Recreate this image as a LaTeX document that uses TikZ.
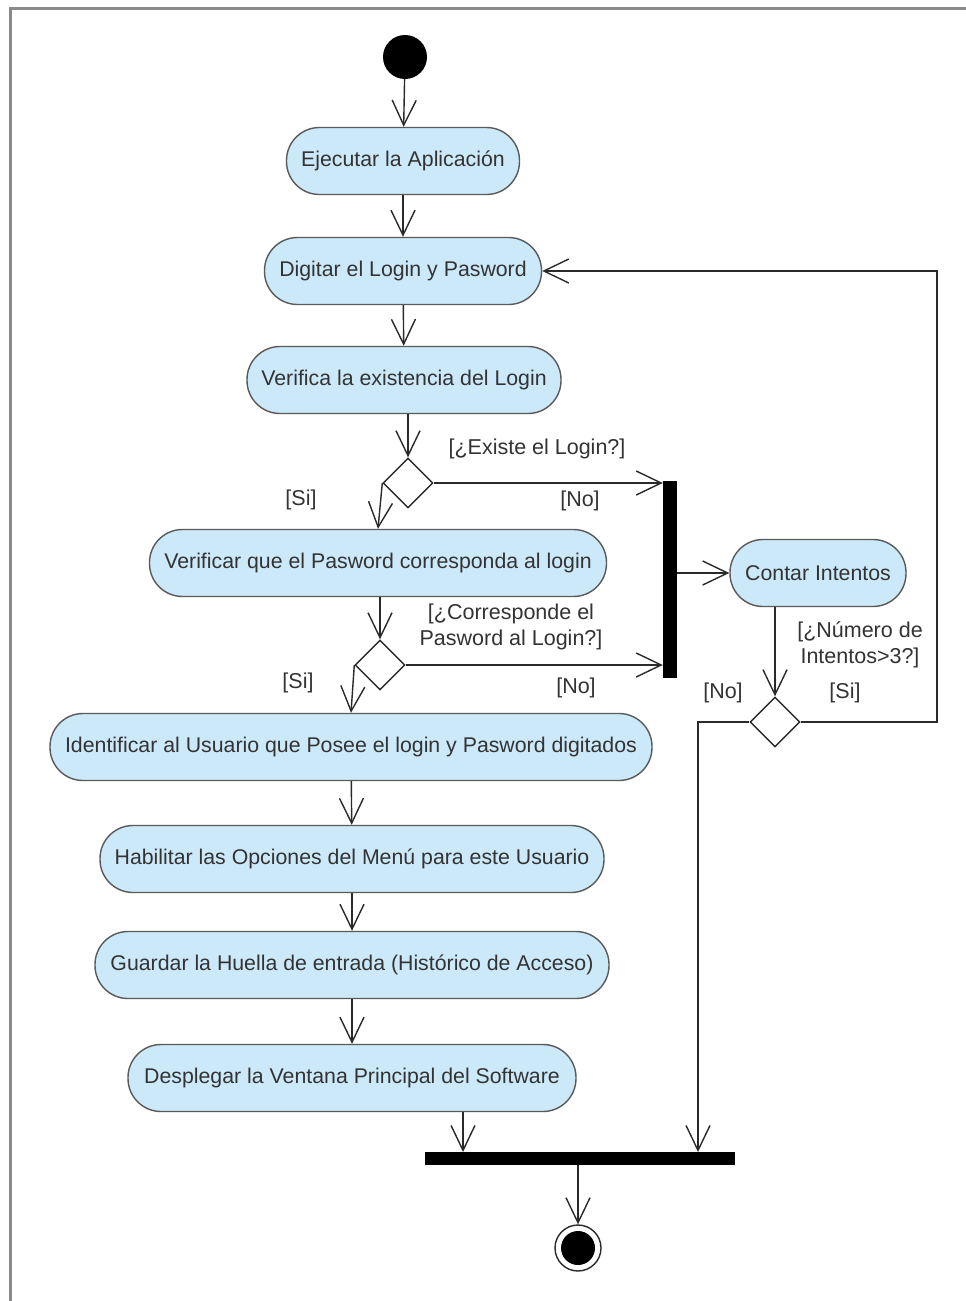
\documentclass[tikz,border=0pt]{standalone}
\usepackage{fontspec}
\setmainfont{Liberation Sans}
\usetikzlibrary{shapes.geometric,arrows.meta,calc}
\definecolor{actfill}{HTML}{CCE9FA}
\definecolor{actline}{HTML}{5A5A5A}
\definecolor{txt}{HTML}{333333}
\definecolor{wire}{HTML}{2A2A2A}
\definecolor{framec}{HTML}{8A8A8A}
\tikzset{
  activity/.style={rectangle, rounded corners=33pt, draw=actline, fill=actfill,
    line width=1.4pt, minimum height=67pt, inner sep=0pt, text=txt,
    font=\fontsize{21.3}{26}\selectfont},
  decision/.style={diamond, draw=wire, fill=white, line width=1.4pt,
    minimum width=50pt, minimum height=50pt, inner sep=0pt},
  syncbar/.style={rectangle, fill=black, inner sep=0pt},
  guard/.style={text=txt, font=\fontsize{21.5}{26}\selectfont, align=center, inner sep=0pt},
  flow/.style={draw=wire, line width=1.4pt,
    -{Straight Barb[length=25pt, width=24pt, line width=1.4pt]}},
}
\begin{document}
\begin{tikzpicture}[x=1pt,y=-1pt]
\useasboundingbox (0,0) rectangle (966,1301);
\fill[white] (0,0) rectangle (966,1301);
% diagram frame
\draw[framec, line width=3pt] (10,1301) -- (10,8) -- (966,8);

% nodes
\node[circle, fill=black, minimum size=44pt, inner sep=0pt] (start) at (405,57) {};
\node[activity, minimum width=233pt] (ejec) at (403,161) {Ejecutar la Aplicación};
\node[activity, minimum width=277pt] (digit) at (403,271) {Digitar el Login y Pasword};
\node[activity, minimum width=314pt] (verif) at (404,380) {Verifica la existencia del Login};
\node[decision] (d1) at (408,483) {};
\node[activity, minimum width=457pt] (vpass) at (378,563) {Verificar que el Pasword corresponda al login};
\node[decision] (d2) at (380,665) {};
\node[activity, minimum width=602pt] (ident) at (351,747) {Identificar al Usuario que Posee el login y Pasword digitados};
\node[activity, minimum width=504pt] (habil) at (352,859) {Habilitar las Opciones del Menú para este Usuario};
\node[activity, minimum width=514pt] (guard) at (352,965) {Guardar la Huella de entrada (Histórico de Acceso)};
\node[activity, minimum width=448pt] (despl) at (352,1078) {Desplegar la Ventana Principal del Software};
\node[syncbar, minimum width=14pt, minimum height=197pt] (fork) at (670,579) {};
\node[activity, minimum width=176pt] (contar) at (818,573) {Contar Intentos};
\node[decision] (d3) at (775,722) {};
\node[syncbar, minimum width=310pt, minimum height=13pt] (join) at (580,1158) {};
\node[circle, draw=wire, fill=white, line width=1.4pt, minimum size=46pt, inner sep=0pt] (end) at (578,1248) {};
\fill[black] (end.center) circle (17pt);

% helper points
\coordinate (ret) at (937,271);
\coordinate (jA) at (463,1152);
\coordinate (jB) at (698,1152);

% flows
\draw[flow] (start) -- (ejec);
\draw[flow] (ejec) -- (digit);
\draw[flow] (digit) -- (verif);
\draw[flow] (verif.south -| d1.north) -- (d1.north);
\draw[flow] (d1.west) -- (vpass.north);
\draw[flow] (d1.east) -- (d1.east -| fork.west);
\draw[flow] (vpass.south -| d2.north) -- (d2.north);
\draw[flow] (d2.west) -- (ident.north);
\draw[flow] (d2.east) -- (d2.east -| fork.west);
\draw[flow] (ident) -- (habil);
\draw[flow] (habil) -- (guard);
\draw[flow] (guard) -- (despl);
\draw[flow] (despl.south -| jA) -- (jA);
\draw[flow] (fork.east |- contar.west) -- (contar.west);
\draw[flow] (contar.south -| d3.north) -- (d3.north);
\draw[flow] (d3.east) -| (ret) -- (digit.east);
\draw[flow] (d3.west) -| (jB);
\draw[flow] (join.south -| end.north) -- (end.north);

% guards
\node[guard] (g1) at (537,449) {[¿Existe el Login?]};
\node[guard] (g1no) at (580,501) {[No]};
\node[guard] (g1si) at (301,500) {[Si]};
\node[guard] (g2) at (511,627) {[¿Corresponde el\\Pasword al Login?]};
\node[guard] (g2no) at (576,688) {[No]};
\node[guard] (g2si) at (298,683) {[Si]};
\node[guard] (g3) at (860,645) {[¿Número de\\Intentos>3?]};
\node[guard] (g3no) at (723,693) {[No]};
\node[guard] (g3si) at (845,693) {[Si]};
\end{tikzpicture}
\end{document}
